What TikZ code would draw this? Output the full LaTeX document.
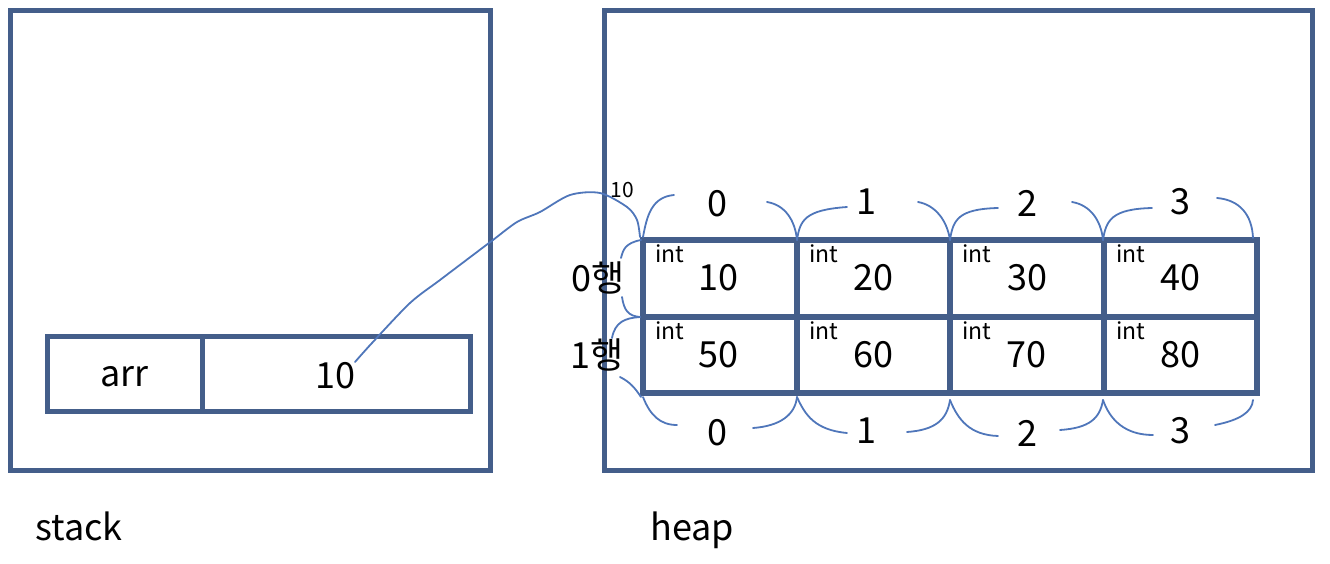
\documentclass[tikz,border=0pt]{standalone}
\usepackage{fontspec}
\setmainfont{Noto Sans CJK KR}
\definecolor{boxc}{RGB}{68,94,138}
\definecolor{brc}{RGB}{79,118,186}
\begin{document}
\begin{tikzpicture}[x=1pt,y=-1pt,
  frame/.style={draw=boxc,line width=5pt,inner sep=0pt},
  cell/.style={draw=boxc,line width=6pt,inner sep=0pt,minimum height=77pt},
  big/.style={font=\fontsize{36}{40}\selectfont,inner sep=0pt},
  small/.style={font=\fontsize{23}{26}\selectfont,inner sep=0pt,anchor=base west},
  tiny/.style={font=\fontsize{21}{24}\selectfont,inner sep=0pt},
  brace/.style={draw=brc,line width=1.8pt,line cap=round}]
\useasboundingbox (0,0) rectangle (1330,564);
% outer frames
\node[frame,minimum width=480pt,minimum height=459pt] (stack) at (250,240.5) {};
\node[frame,minimum width=708pt,minimum height=459pt] (heap) at (958,240.5) {};
% stack variable
\node[frame,minimum width=155pt,minimum height=75pt] (arr) at (124.5,373.5) {};
\node[frame,minimum width=268pt,minimum height=75pt] (val) at (336,373.5) {};
\node[big] (arrt) at (124.5,377) {arr};
\node[big] (valt) at (335,376) {10};
% heap grid
\foreach \c/\xa/\xb in {0/643/797,1/797/950,2/950/1104,3/1104/1257}{
  \foreach \r/\ya/\yb in {0/240/317,1/317/393}{
    \node[cell,minimum width={\xb-\xa},minimum height={\yb-\ya}] (c\r\c) at ({(\xa+\xb)/2},{(\ya+\yb)/2}) {};
    \node[small] (i\r\c) at ({\xa+12},{\ya+22}) {int};
  }
}
\node[big] (n00) at (718,278) {10};
\node[big] (n01) at (873,278) {20};
\node[big] (n02) at (1027,278) {30};
\node[big] (n03) at (1180,278) {40};
\node[big] (n10) at (718,355) {50};
\node[big] (n11) at (873,355) {60};
\node[big] (n12) at (1026,355) {70};
\node[big] (n13) at (1180,355) {80};
% index labels
\node[big] (t0) at (717,203.5) {0};
\node[big] (t1) at (866,202) {1};
\node[big] (t2) at (1027,203.5) {2};
\node[big] (t3) at (1180,202) {3};
\node[big] (b0) at (717,433) {0};
\node[big] (b1) at (866,431) {1};
\node[big] (b2) at (1027,433) {2};
\node[big] (b3) at (1180,431) {3};
\node[big] (r0) at (598,278) {0행};
\node[big] (r1) at (597,355) {1행};
\node[tiny] (addr) at (622,190) {10};
% captions
\node[big,anchor=base west] (stackl) at (35,540) {stack};
\node[big,anchor=base west] (heapl) at (650,540) {heap};
% top braces
\draw[brace] (643,237) .. controls (647,215) and (652,197) .. (674,195);
\draw[brace] (767,202) .. controls (785,205) and (795,220) .. (797,240);
\draw[brace] (797,240) .. controls (800,220) and (805,210) .. (847,207);
\draw[brace] (918,202) .. controls (935,205) and (947,220) .. (950,240);
\draw[brace] (950,240) .. controls (953,220) and (958,209) .. (998,208);
\draw[brace] (1072,202) .. controls (1090,205) and (1101,220) .. (1103,240);
\draw[brace] (1103,240) .. controls (1106,220) and (1112,209) .. (1152,208);
\draw[brace] (1217,198) .. controls (1240,200) and (1252,215) .. (1253,238);
% bottom braces
\draw[brace] (643,397) .. controls (650,415) and (660,425) .. (677,425);
\draw[brace] (753,428) .. controls (780,426) and (795,415) .. (797,397);
\draw[brace] (797,397) .. controls (805,415) and (815,430) .. (847,433);
\draw[brace] (907,432) .. controls (935,430) and (947,420) .. (950,400);
\draw[brace] (950,400) .. controls (958,420) and (970,435) .. (998,436);
\draw[brace] (1060,430) .. controls (1090,428) and (1100,418) .. (1103,400);
\draw[brace] (1103,400) .. controls (1110,420) and (1125,435) .. (1153,435);
\draw[brace] (1215,425) .. controls (1240,420) and (1252,412) .. (1253,400);
% row braces
\draw[brace] (641,240) .. controls (625,243) and (623,250) .. (621,258);
\draw[brace] (622,297) .. controls (624,310) and (628,316) .. (640,317);
\draw[brace] (640,317) .. controls (625,318) and (615,322) .. (612,338);
\draw[brace] (620,377) .. controls (630,382) and (635,388) .. (641,397);
% pointer
\coordinate (p0) at (355,362);
\draw[brace] plot[smooth] coordinates {(p0) (372,343) (410,303) (440,280) (477,252) (493,240) (517,222) (540,212) (570,195) (600,193) (627,207) (637,220) (c00.north west)};
\end{tikzpicture}
\end{document}
